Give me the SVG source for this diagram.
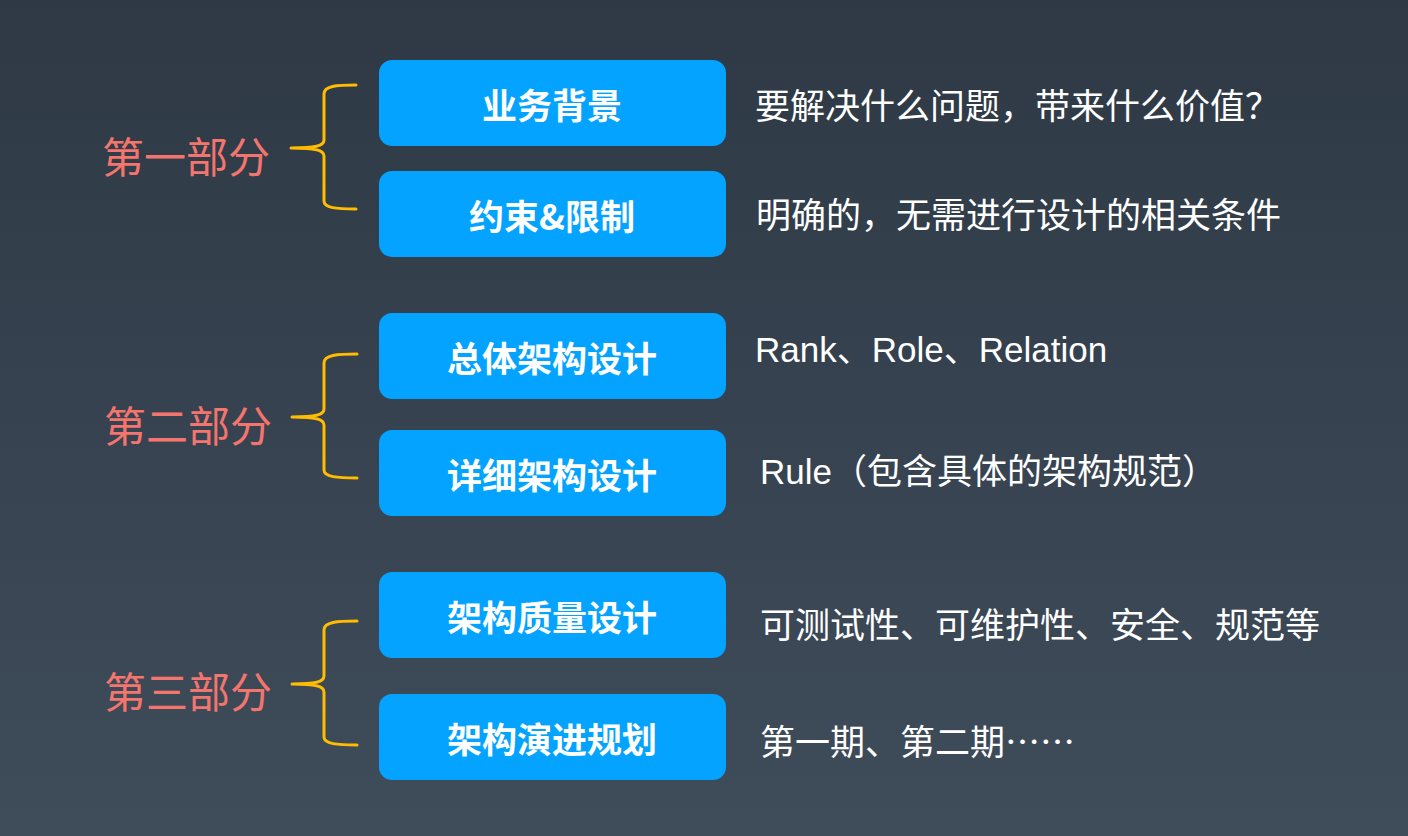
<svg xmlns="http://www.w3.org/2000/svg" width="1408" height="836" viewBox="0 0 1408 836">
<defs>
<linearGradient id="bg" x1="0" y1="0" x2="0" y2="1">
<stop offset="0" stop-color="#2E3945"/>
<stop offset="1" stop-color="#3F4C5A"/>
</linearGradient>
<style>
.box{fill:#03A3FF}
.bt{fill:#FFFFFF;font-family:"Noto Sans CJK SC","Noto Sans",sans-serif;font-weight:600;font-size:35px;text-anchor:middle;dominant-baseline:central}
.dt{fill:#FFFFFF;font-family:"Noto Sans CJK SC",sans-serif;font-size:35px;dominant-baseline:central}
.lt{fill:#F4756D;font-family:"Noto Sans CJK SC",sans-serif;font-size:42px;dominant-baseline:central}
.br{fill:none;stroke:#FFBC00;stroke-width:3;stroke-linecap:round;stroke-linejoin:round}
</style>
</defs>
<rect width="1408" height="836" fill="url(#bg)"/>
<g id="connectors">
<path class="br" d="M356 85 C336 85 324 86 324 94 L324 140 C324 146 315 148 291 148 C315 148 324 150 324 156 L324 201 C324 208 336 209 356 209"/>
<path class="br" d="M357 354 C337 354 324 355 324 363 L324 409 C324 415 315 417 292 417 C315 417 324 419 324 425 L324 470 C324 477 337 478 357 478"/>
<path class="br" d="M357 621 C337 621 324 622 324 630 L324 676 C324 682 315 684 292 684 C315 684 324 686 324 692 L324 737 C324 744 337 745 357 745"/>
</g>
<g id="label1"><text class="lt" x="102" y="154">第一部分</text></g>
<g id="label2"><text class="lt" x="104" y="423">第二部分</text></g>
<g id="label3"><text class="lt" x="104" y="689">第三部分</text></g>
<g id="node1"><rect class="box" x="379" y="60" width="347" height="86" rx="13"/><text class="bt" x="552" y="103">业务背景</text></g>
<g id="node2"><rect class="box" x="379" y="171" width="347" height="86" rx="13"/><text class="bt" x="552" y="214">约束&amp;限制</text></g>
<g id="node3"><rect class="box" x="379" y="313" width="347" height="86" rx="13"/><text class="bt" x="552" y="356">总体架构设计</text></g>
<g id="node4"><rect class="box" x="379" y="430" width="347" height="86" rx="13"/><text class="bt" x="552" y="473">详细架构设计</text></g>
<g id="node5"><rect class="box" x="379" y="572" width="347" height="86" rx="13"/><text class="bt" x="552" y="615">架构质量设计</text></g>
<g id="node6"><rect class="box" x="379" y="694" width="347" height="86" rx="13"/><text class="bt" x="552" y="737">架构演进规划</text></g>
<g id="desc">
<text class="dt" x="755" y="103">要解决什么问题，带来什么价值？</text>
<text class="dt" x="756" y="212">明确的，无需进行设计的相关条件</text>
<text class="dt" x="755" y="349" style="font-family:'Liberation Sans','Noto Sans CJK SC',sans-serif">Rank、Role、Relation</text>
<text class="dt" x="760" y="471" style="font-family:'Liberation Sans','Noto Sans CJK SC',sans-serif">Rule（包含具体的架构规范）</text>
<text class="dt" x="760" y="622">可测试性、可维护性、安全、规范等</text>
<text class="dt" x="760" y="739">第一期、第二期……</text>
</g>
</svg>
